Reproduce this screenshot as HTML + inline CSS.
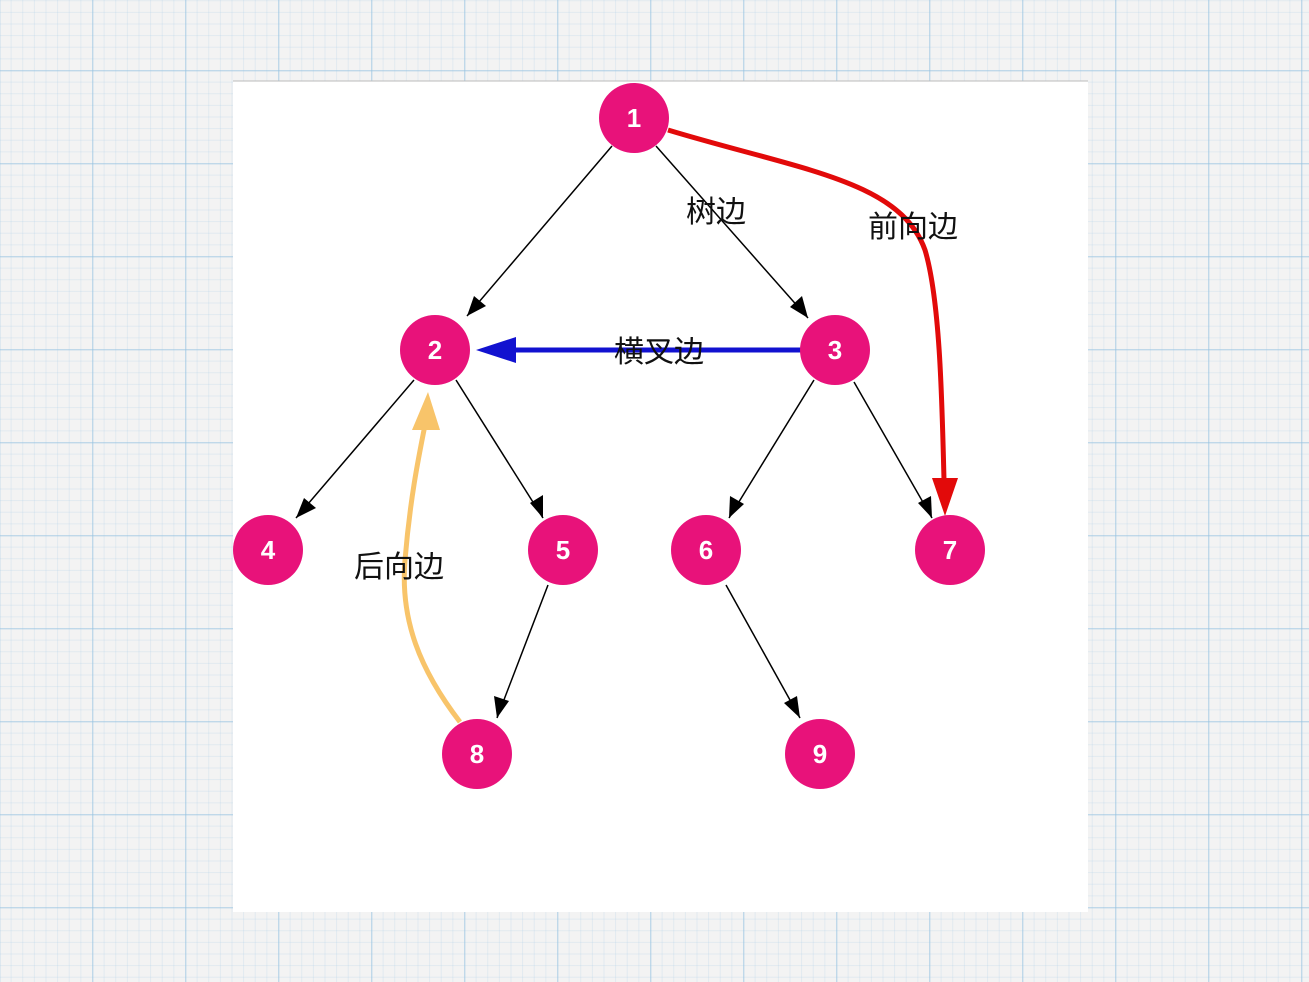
<!DOCTYPE html>
<html><head><meta charset="utf-8"><style>
html,body{margin:0;padding:0;}
body{width:1309px;height:982px;overflow:hidden;background-color:#f3f3f3;
background-image:
linear-gradient(to right, rgba(150,195,225,.45) 1.5px, transparent 1.5px),
linear-gradient(to bottom, rgba(150,195,225,.45) 1.5px, transparent 1.5px),
linear-gradient(to right, rgba(170,205,230,.25) 1px, transparent 1px),
linear-gradient(to bottom, rgba(170,205,230,.25) 1px, transparent 1px);
background-size:93px 93px,93px 93px,11.625px 11.625px,11.625px 11.625px;
background-position:92px 0,0 70px,92px 0,0 70px;}
svg{position:absolute;left:0;top:0;}
</style></head><body>
<svg width="1309" height="982" viewBox="0 0 1309 982">
<rect x="233" y="81" width="855" height="831" fill="#fff"/>
<line x1="233" y1="81" x2="1088" y2="81" stroke="#bbb" stroke-width="1"/>
<g stroke="#000" stroke-width="1.5" fill="none">
<line x1="612" y1="146" x2="467" y2="316" />
<line x1="656" y1="146" x2="808" y2="318" />
<line x1="414" y1="380" x2="296" y2="518" />
<line x1="456" y1="380" x2="543" y2="518" />
<line x1="814" y1="380" x2="729" y2="518" />
<line x1="854" y1="382" x2="932" y2="518" />
<line x1="548" y1="585" x2="497" y2="718" />
<line x1="726" y1="585" x2="800" y2="718" />
</g>
<g fill="#000">
<polygon points="467,316 474,296 486,306"/>
<polygon points="808,318 790,307 802,296"/>
<polygon points="296,518 304,498 316,508"/>
<polygon points="543,518 530,503 543,495"/>
<polygon points="729,518 730,496 744,504"/>
<polygon points="932,518 918,503 931,496"/>
<polygon points="497,718 494,696 509,701"/>
<polygon points="800,718 784,703 797,696"/>
</g>
<path d="M668,130 C800,170 900,180 925,250 C940,300 942,400 944,480" stroke="#e20a0a" stroke-width="5" fill="none"/>
<polygon points="932,478 958,478 945,516" fill="#e20a0a"/>
<line x1="805" y1="350" x2="510" y2="350" stroke="#1212d0" stroke-width="5"/>
<polygon points="476,350 516,337 516,363" fill="#1212d0"/>
<path d="M460,722 C420,670 400,620 405,560 C410,500 418,460 425,425" stroke="#f8c46a" stroke-width="5" fill="none"/>
<polygon points="428,392 412,430 440,430" fill="#f8c46a"/>
<g font-family="'Liberation Sans','Noto Sans CJK SC',sans-serif" font-size="30" fill="#111">
<text x="686" y="222">树边</text>
<text x="868" y="237">前向边</text>
<text x="614" y="362">横叉边</text>
<text x="354" y="577">后向边</text>
</g>
<g fill="#e8127a">
<circle cx="634" cy="118" r="35"/><circle cx="435" cy="350" r="35"/><circle cx="835" cy="350" r="35"/>
<circle cx="268" cy="550" r="35"/><circle cx="563" cy="550" r="35"/><circle cx="706" cy="550" r="35"/>
<circle cx="950" cy="550" r="35"/><circle cx="477" cy="754" r="35"/><circle cx="820" cy="754" r="35"/>
</g>
<g font-family="'Liberation Sans',sans-serif" font-size="26" font-weight="bold" fill="#fff" text-anchor="middle">
<text x="634" y="127">1</text><text x="435" y="359">2</text><text x="835" y="359">3</text>
<text x="268" y="559">4</text><text x="563" y="559">5</text><text x="706" y="559">6</text>
<text x="950" y="559">7</text><text x="477" y="763">8</text><text x="820" y="763">9</text>
</g>
</svg>
</body></html>
